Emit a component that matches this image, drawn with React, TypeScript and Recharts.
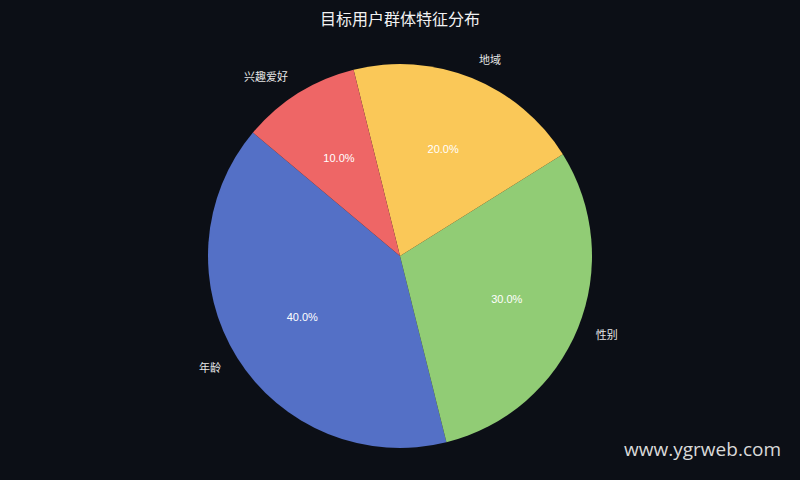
import React from "react";
import { PieChart, Pie, Cell } from "recharts";

const categories = ["年龄", "性别", "地域", "兴趣爱好"];
const values = [40, 30, 20, 10];
const colors = ["#5470C6", "#91CC75", "#FAC858", "#EE6666"];
const title = "目标用户群体特征分布";
const watermark = "www.ygrweb.com";

const data = categories.map((name, i) => ({ name, value: values[i] }));

const RAD = Math.PI / 180;
const FONT = "'Liberation Sans', 'Noto Sans CJK SC', sans-serif";

const renderLabel = (props: any) => {
  const { cx, cy, midAngle, outerRadius, percent, name } = props;
  const cos = Math.cos(-midAngle * RAD);
  const sin = Math.sin(-midAngle * RAD);
  const rIn = outerRadius * 0.6;
  const rOut = outerRadius * 1.1;
  const xi = cx + rIn * cos;
  const yi = cy + rIn * sin;
  const xo = cx + rOut * cos;
  const yo = cy + rOut * sin;
  return (
    <g>
      <text x={xi} y={yi} fill="#ffffff" fontSize={11} fontFamily={FONT} textAnchor="middle" dominantBaseline="central">
        {(percent * 100).toFixed(1) + "%"}
      </text>
      <text x={xo} y={yo} fill="#e6e6e6" fontSize={11} fontFamily={FONT} textAnchor={xo < cx ? "end" : "start"} dominantBaseline="central">
        {name}
      </text>
    </g>
  );
};

export default function App() {
  return (
    <div style={{ position: "fixed", left: 0, top: 0, width: 800, height: 480, background: "#0C0F16", overflow: "hidden" }}>
      <PieChart width={800} height={480} margin={{ top: 0, right: 0, bottom: 0, left: 0 }}>
        <Pie
          data={data}
          dataKey="value"
          nameKey="name"
          cx={400}
          cy={256}
          outerRadius={192}
          startAngle={140}
          endAngle={500}
          stroke="none"
          label={renderLabel}
          labelLine={false}
          isAnimationActive={false}
        >
          {data.map((d, i) => (
            <Cell key={d.name} fill={colors[i]} />
          ))}
        </Pie>
      </PieChart>
      <div style={{ position: "absolute", left: 0, width: 800, top: 7, textAlign: "center", color: "#f2f2f2", fontSize: 16, fontFamily: "'Noto Sans CJK SC', sans-serif", lineHeight: "22px" }}>
        {title}
      </div>
      <div style={{ position: "absolute", right: 19, top: 436, color: "#d9d9d9", fontSize: 19, fontFamily: "'Open Sans', 'Noto Sans', sans-serif", lineHeight: "26px" }}>
        {watermark}
      </div>
    </div>
  );
}
